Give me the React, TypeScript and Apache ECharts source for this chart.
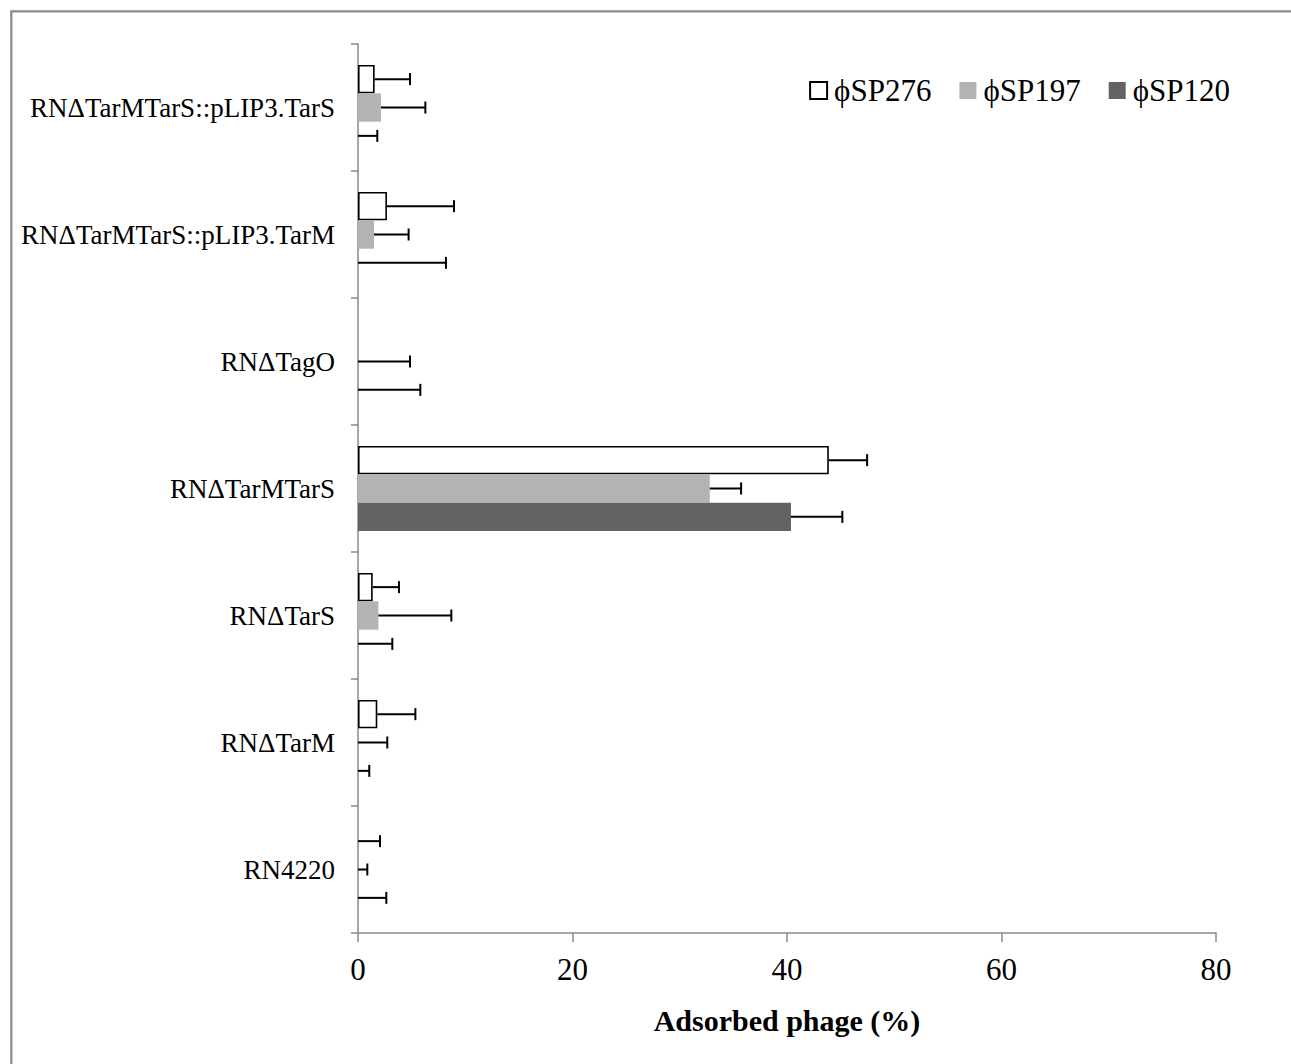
import React, { useEffect, useRef } from "react";
import * as echarts from "echarts";

// Strains, listed bottom to top on the category axis
const strains = [
  "RN4220",
  "RNΔTarM",
  "RNΔTarS",
  "RNΔTarMTarS",
  "RNΔTagO",
  "RNΔTarMTarS::pLIP3.TarM",
  "RNΔTarMTarS::pLIP3.TarS",
];

const phageNames = ["ϕSP276", "ϕSP197", "ϕSP120"];

// Adsorbed phage (%) per strain, same order as strains
const sp276Values = [0, 1.8, 1.37, 43.9, 0, 2.7, 1.55];
const sp197Values = [0, 0, 1.9, 32.8, 0, 1.49, 2.14];
const sp120Values = [0, 0, 0, 40.37, 0, 0, 0];

// Standard deviations
const sp276Errors = [2.05, 3.55, 2.45, 3.57, 0, 6.25, 3.3];
const sp197Errors = [0.87, 2.73, 6.8, 2.92, 4.85, 3.23, 4.14];
const sp120Errors = [2.64, 1.05, 3.2, 4.79, 5.81, 8.2, 1.8];

const xTicks = [0, 20, 40, 60, 80];

const FONT = "'Liberation Serif', 'Times New Roman', serif";
const CATEGORY_GAP = 0.33;

const values = [sp276Values, sp197Values, sp120Values];
const errors = [sp276Errors, sp197Errors, sp120Errors];
const fills = ["#ffffff", "#b3b3b3", "#636363"];

function errorSeries(idx: number) {
  return {
    type: "custom",
    name: "err" + idx,
    silent: true,
    z: 5,
    encode: { x: 0, y: 1 },
    data: values[idx].map((v, i) => [v, i, errors[idx][i]]),
    renderItem: (params: any, api: any) => {
      const v = api.value(0);
      const cat = api.value(1);
      const err = api.value(2);
      if (!err) return null;
      const start = api.coord([v, cat]);
      const end = api.coord([v + err, cat]);
      const band = api.size([0, 1])[1];
      const bw = (band * (1 - CATEGORY_GAP)) / 3;
      const y = start[1] - 1.5 * bw + (idx + 0.5) * bw;
      const style = { stroke: "#000", lineWidth: 2 };
      return {
        type: "group",
        children: [
          { type: "line", shape: { x1: start[0], y1: y, x2: end[0], y2: y }, style },
          { type: "line", shape: { x1: end[0], y1: y - 6, x2: end[0], y2: y + 6 }, style },
        ],
      };
    },
  };
}

export default function App() {
  const ref = useRef<HTMLDivElement>(null);

  useEffect(() => {
    if (!ref.current) return;
    const chart = echarts.init(ref.current, undefined, { renderer: "svg" });

    const barSeries = phageNames.map((name, idx) => ({
      type: "bar",
      name,
      // zero-height bars get no outline so nothing shows on the axis
      data: values[idx].map((v) =>
        v === 0 ? { value: v, itemStyle: { borderWidth: 0 } } : v
      ),
      barGap: "0%",
      barCategoryGap: CATEGORY_GAP * 100 + "%",
      itemStyle:
        idx === 0
          ? { color: fills[idx], borderColor: "#000", borderWidth: 1.6 }
          : { color: fills[idx] },
    }));

    chart.setOption({
      animation: false,
      backgroundColor: "#ffffff",
      textStyle: { fontFamily: FONT },
      graphic: [
        {
          type: "rect",
          shape: { x: 11.3, y: 11.3, width: 1320, height: 1100 },
          style: { fill: "none", stroke: "#898989", lineWidth: 2.2 },
          silent: true,
        },
      ],
      grid: { left: 358, right: 75, top: 44, bottom: 131, containLabel: false },
      legend: {
        data: phageNames,
        right: 56,
        top: 70,
        icon: "rect",
        itemWidth: 17,
        itemHeight: 17,
        itemGap: 28,
        textStyle: {
          fontFamily: FONT,
          fontSize: 31,
          color: "#000",
          padding: [0, 0, 0, 2],
        },
      },
      xAxis: {
        type: "value",
        min: xTicks[0],
        max: xTicks[xTicks.length - 1],
        interval: 20,
        name: "Adsorbed phage (%)",
        nameLocation: "middle",
        nameGap: 72,
        nameTextStyle: {
          fontFamily: FONT,
          fontSize: 30,
          fontWeight: "bold",
          color: "#000",
        },
        axisLine: { show: true, lineStyle: { color: "#8a8a8a", width: 1.5 } },
        axisTick: { show: true, length: 9, lineStyle: { color: "#8a8a8a", width: 1.5 } },
        axisLabel: { fontFamily: FONT, fontSize: 31, color: "#000", margin: 21 },
        splitLine: { show: false },
      },
      yAxis: {
        type: "category",
        data: strains,
        axisLine: { show: true, lineStyle: { color: "#8a8a8a", width: 1.5 } },
        axisTick: { show: true, length: 7, lineStyle: { color: "#8a8a8a", width: 1.5 } },
        axisLabel: { fontFamily: FONT, fontSize: 27, color: "#000", margin: 23 },
        splitLine: { show: false },
      },
      series: [...barSeries, errorSeries(0), errorSeries(1), errorSeries(2)],
    });

    return () => chart.dispose();
  }, []);

  return (
    <div
      ref={ref}
      style={{ position: "absolute", left: 0, top: 0, width: 1291, height: 1064 }}
    />
  );
}
